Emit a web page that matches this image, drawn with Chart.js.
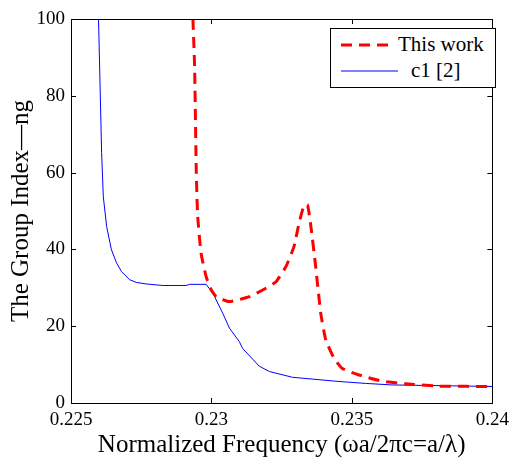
<!DOCTYPE html>
<html>
<head>
<meta charset="utf-8">
<script src="https://cdn.jsdelivr.net/npm/chart.js@4/dist/chart.umd.min.js"></script>
<style>
  html, body { margin: 0; padding: 0; background: #fff; }
  #wrap { position: relative; width: 515px; height: 464px; }
  #legend { position: absolute; left: 330px; top: 28px; width: 164px; height: 58px;
    border: 1px solid #000; background: #fff; font-family: "Liberation Serif", serif;
    font-size: 21px; color: #000; }
  .row { position: absolute; left: 0; height: 22px; }
  .row svg { position: absolute; left: 9px; top: 0; }
  .row span { position: absolute; white-space: nowrap; line-height: 22px; top: -1px; }
</style>
</head>
<body>
<div id="wrap">
  <canvas id="c" width="515" height="464"></canvas>
  <div id="legend">
    <div class="row" style="top:5px;">
      <svg width="60" height="22"><line x1="1" y1="11" x2="50" y2="11" stroke="#ff0000" stroke-width="3" stroke-dasharray="11,7"/></svg>
      <span style="left:67px;">This work</span>
    </div>
    <div class="row" style="top:31px;">
      <svg width="60" height="22"><line x1="1" y1="11" x2="58" y2="11" stroke="#0000ff" stroke-width="1"/></svg>
      <span style="left:80px;">c1 [2]</span>
    </div>
  </div>
</div>
<script>
// Tick values
const xTicks = [0.225, 0.23, 0.235, 0.24];
const yTicks = [0, 20, 40, 60, 80, 100];

// Series: c1 [2] (blue)
const blueX = [0.22598, 0.22609, 0.22615, 0.22627, 0.22644, 0.22662, 0.2268, 0.22709, 0.22733, 0.22768, 0.22827, 0.2291, 0.22922, 0.22981, 0.23005, 0.2304, 0.23064, 0.23099, 0.23111, 0.2317, 0.23206, 0.23288, 0.23454, 0.23549, 0.23643, 0.2401];
const blueY = [100, 65.2, 53.7, 45.9, 39.9, 36.5, 34.2, 32.1, 31.4, 31.0, 30.6, 30.6, 30.9, 30.9, 28.6, 23.4, 19.5, 16.0, 14.2, 9.6, 8.2, 6.7, 5.6, 5.1, 4.7, 4.3];

// Series: This work (red, dashed)
const redX = [0.22934, 0.2294, 0.22946, 0.22951, 0.22963, 0.22981, 0.22999, 0.23017, 0.23064, 0.23135, 0.23194, 0.2323, 0.23265, 0.23294, 0.23312, 0.2333, 0.23342, 0.23354, 0.23371, 0.23389, 0.23407, 0.23436, 0.23466, 0.23525, 0.23607, 0.2369, 0.23809, 0.2401];
const redY = [100, 87.7, 60, 48.6, 39, 32.9, 29.5, 27.7, 26.4, 27.7, 29.9, 31.6, 35.5, 40.8, 46.9, 51.6, 51.6, 46, 35.5, 23.4, 16.4, 11.7, 9.0, 7.3, 5.7, 5.0, 4.4, 4.3];

const toPts = (xs, ys) => xs.map((x, i) => ({ x: x, y: ys[i] }));
const serif = '"Liberation Serif", "Times New Roman", serif';
Chart.defaults.font.family = serif;
Chart.defaults.color = '#000';

const frame = {
  id: 'frame',
  afterDraw(chart) {
    const { ctx, chartArea: a, scales } = chart;
    ctx.save();
    ctx.strokeStyle = '#000';
    ctx.lineWidth = 1;
    ctx.strokeRect(Math.round(a.left) + 0.5, Math.round(a.top) + 0.5, Math.round(a.right - a.left), Math.round(a.bottom - a.top));
    const L = 5;
    ctx.beginPath();
    xTicks.forEach(v => {
      const px = Math.round(scales.x.getPixelForValue(v)) + 0.5;
      ctx.moveTo(px, a.bottom); ctx.lineTo(px, a.bottom - L);
      ctx.moveTo(px, a.top); ctx.lineTo(px, a.top + L);
    });
    yTicks.forEach(v => {
      const py = Math.round(scales.y.getPixelForValue(v)) + 0.5;
      ctx.moveTo(a.left, py); ctx.lineTo(a.left + L, py);
      ctx.moveTo(a.right, py); ctx.lineTo(a.right - L, py);
    });
    ctx.stroke();
    ctx.restore();
  }
};

new Chart(document.getElementById('c'), {
  type: 'line',
  data: {
    datasets: [
      { label: 'This work', data: toPts(redX, redY), borderColor: '#ff0000', borderWidth: 3, borderDash: [11, 7], pointRadius: 0, fill: false, tension: 0.15, order: 0 },
      { label: 'c1 [2]', data: toPts(blueX, blueY), borderColor: '#0000ff', borderWidth: 1, pointRadius: 0, fill: false, tension: 0, order: 1 }
    ]
  },
  options: {
    responsive: false,
    animation: false,
    layout: { padding: { top: 19, right: 20, left: 0, bottom: 0 } },
    plugins: { legend: { display: false }, tooltip: { enabled: false } },
    scales: {
      x: {
        type: 'linear', min: 0.225, max: 0.24,
        afterBuildTicks: s => { s.ticks = xTicks.map(v => ({ value: v })); },
        afterFit: s => { s.height = 61; },
        grid: { display: false, drawTicks: false },
        border: { display: false },
        ticks: { color: '#000', font: { family: serif, size: 19 }, padding: 6, maxRotation: 0,
          callback: v => String(Number(v.toFixed(3))) },
        title: { display: true, text: 'Normalized Frequency (ωa/2πc=a/λ)', color: '#000',
          font: { family: serif, size: 25 }, padding: { top: 0, bottom: 4 } }
      },
      y: {
        type: 'linear', min: 0, max: 100,
        afterBuildTicks: s => { s.ticks = yTicks.map(v => ({ value: v })); },
        afterFit: s => { s.width = 71; },
        grid: { display: false, drawTicks: false },
        border: { display: false },
        ticks: { color: '#000', font: { family: serif, size: 19 }, padding: 6 },
        title: { display: true, text: 'The Group Index—ng', color: '#000',
          font: { family: serif, size: 25 }, padding: { top: 6, bottom: 0 } }
      }
    }
  },
  plugins: [frame]
});
</script>
</body>
</html>
